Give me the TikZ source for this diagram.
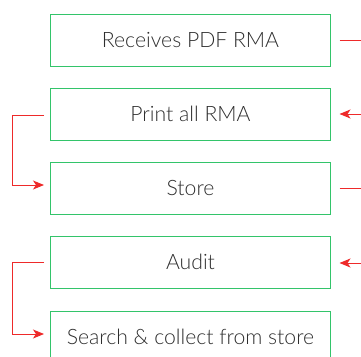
\documentclass[tikz,border=0pt]{standalone}
\usepackage{fontspec}
\setmainfont{Lato Light}
\usetikzlibrary{arrows.meta}
\definecolor{boxgreen}{HTML}{33C46A}
\definecolor{linkred}{HTML}{EE2A2A}
\definecolor{txtgray}{HTML}{2E2E2E}
\tikzset{
  stepbox/.style={draw=boxgreen, line width=1pt, minimum width=280pt,
    minimum height=52pt, inner sep=0pt, text=txtgray,
    font=\fontsize{21.2}{23}\selectfont},
  link/.style={draw=linkred, line width=1pt},
  linkarrow/.style={link, -{Stealth[length=11pt,width=9pt,inset=3pt]}}
}
\begin{document}
\begin{tikzpicture}[x=1pt,y=-1pt]
  \useasboundingbox (0,0) rectangle (361,356);
  \clip (0,0) rectangle (361,356);
  \node[stepbox] (recv)   at (190.5,40)  {Receives PDF RMA};
  \node[stepbox] (print)  at (190.5,114) {Print all RMA};
  \node[stepbox] (store)  at (190.5,188) {Store};
  \node[stepbox] (audit)  at (190.5,262) {Audit};
  \node[stepbox] (search) at (190.5,337) {Search \& collect from store};

  % outgoing links on the right
  \coordinate (r1) at (370,40);
  \coordinate (r2) at (370,114);
  \coordinate (r3) at (370,188);
  \coordinate (r4) at (370,263);
  \draw[link] ([xshift=8.5pt]recv.east) -- (r1);
  \draw[linkarrow] (r2) -- ([xshift=8.5pt]print.east);
  \draw[link] ([xshift=8.5pt]store.east) -- (r3);
  \draw[linkarrow] (r4) -- ([xshift=8.5pt,yshift=-1pt]audit.east);

  % elbow links on the left
  \draw[linkarrow] ([xshift=-6pt,yshift=-1pt]print.west) -- ++(-32,0)
    |- ([xshift=-6pt,yshift=3pt]store.west);
  \draw[linkarrow] ([xshift=-6pt]audit.west) -- ++(-32,0)
    |- ([xshift=-6pt,yshift=3pt]search.west);
\end{tikzpicture}
\end{document}
